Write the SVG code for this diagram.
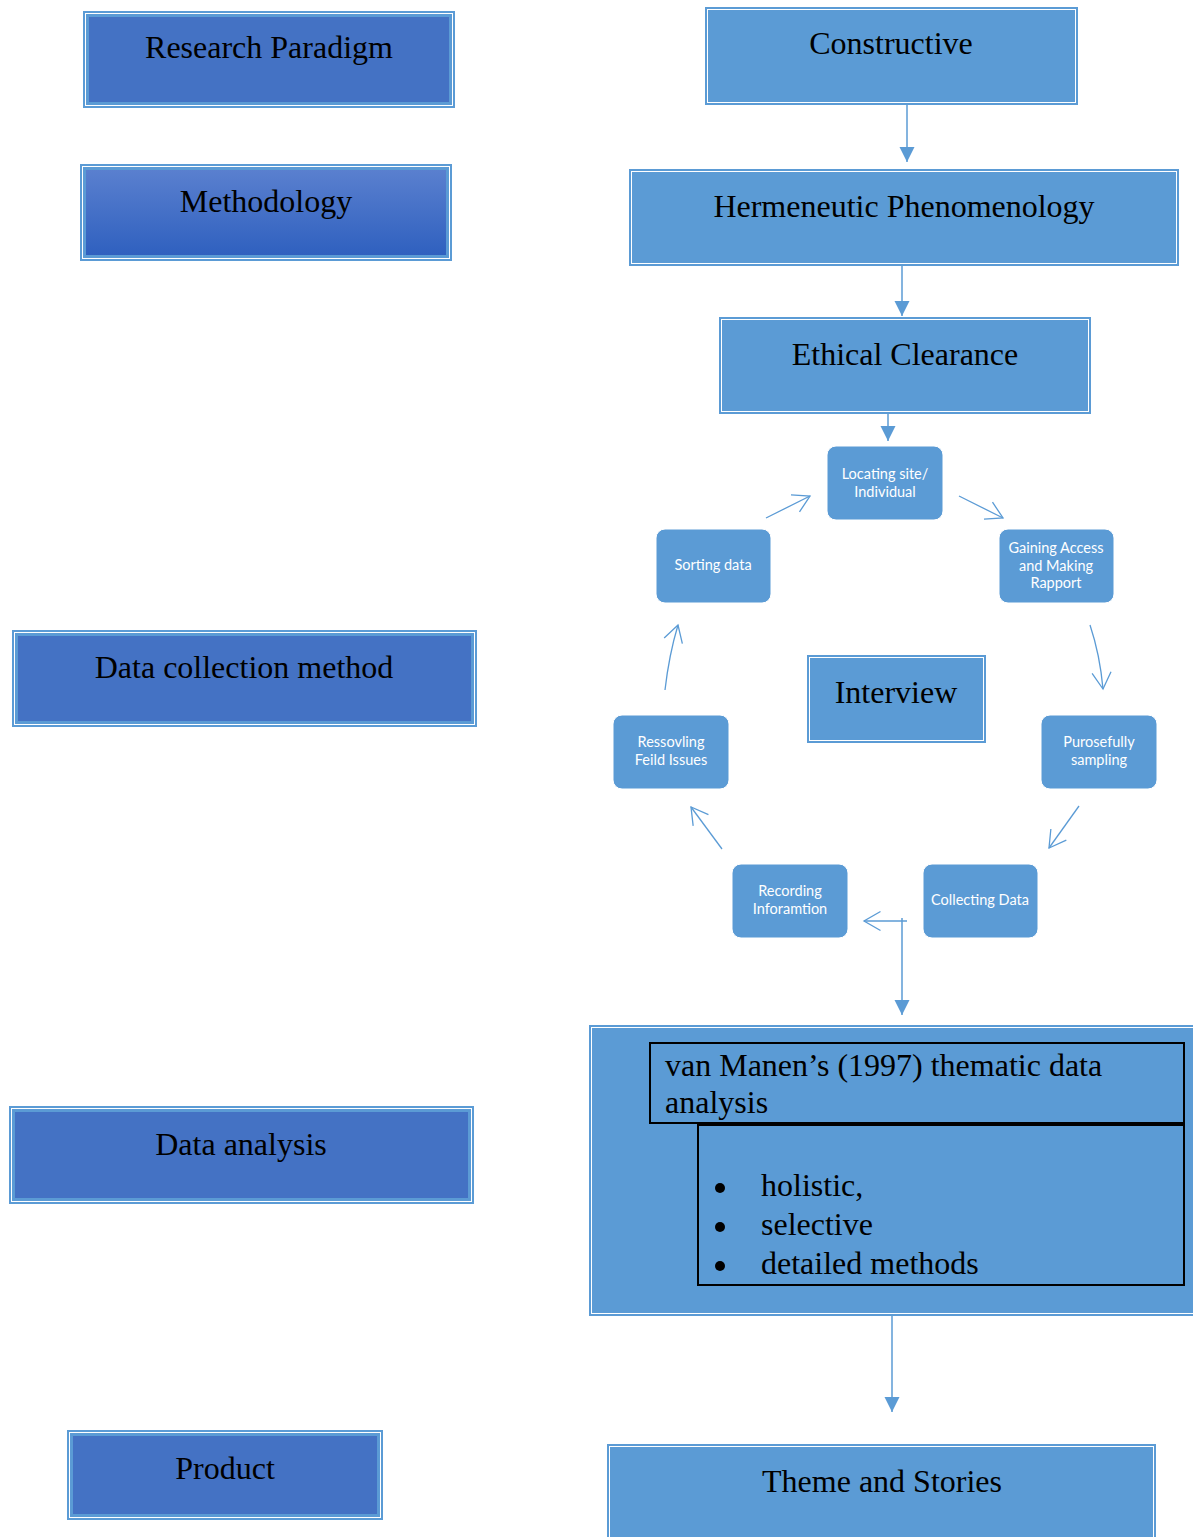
<svg xmlns="http://www.w3.org/2000/svg" width="1193" height="1537" viewBox="0 0 1193 1537">
<style>
.lo{fill:#5B9BD5}
.lw{fill:none;stroke:#ffffff;stroke-width:1}
.ld{fill:#4472C4;stroke:#5B9BD5;stroke-width:2}
.rf{fill:#5B9BD5}
.t{font-family:"Liberation Serif","Times New Roman",serif;font-size:32px;fill:#000;text-anchor:middle}
.tl{font-family:"Liberation Serif","Times New Roman",serif;font-size:32px;fill:#000}
.c{fill:#5B9BD5;stroke:#ffffff;stroke-width:1}
.ct{font-family:Lato,"Open Sans",sans-serif;font-size:14.5px;fill:#ffffff;text-anchor:middle}
.k{fill:none;stroke:#000;stroke-width:2}
.a{fill:none;stroke:#5B9BD5;stroke-width:1.5}
.o{fill:none;stroke:#5B9BD5;stroke-width:1.3}
</style>
<defs>
<linearGradient id="gm" x1="0" y1="0" x2="0" y2="1">
<stop offset="0" stop-color="#5A80CF"/>
<stop offset="1" stop-color="#2F60BF"/>
</linearGradient>
<marker id="fa" viewBox="-15 -8 16 16" refX="0" refY="0" markerWidth="16" markerHeight="16" markerUnits="userSpaceOnUse" orient="auto" overflow="visible">
<path d="M-15,-7.5 L0,0 L-15,7.5 Z" fill="#5B9BD5"/>
</marker>
<marker id="oa" viewBox="-18 -10 19 20" refX="0" refY="0" markerWidth="19" markerHeight="20" markerUnits="userSpaceOnUse" orient="auto" overflow="visible">
<path d="M-16.5,-9.5 L0,0 L-16.5,9.5" fill="none" stroke="#5B9BD5" stroke-width="1.3"/>
</marker>
</defs>

<g id="research-paradigm">
<rect class="lo" x="83" y="11" width="372" height="97"/>
<rect class="lw" x="85.5" y="13.5" width="367" height="92"/>
<rect class="ld" x="88" y="16" width="362" height="87"/>
<text class="t" x="269" y="58">Research Paradigm</text>
</g>

<g id="methodology">
<rect class="lo" x="80" y="164" width="372" height="97"/>
<rect class="lw" x="82.5" y="166.5" width="367" height="92"/>
<rect x="85" y="169" width="362" height="87" fill="url(#gm)" stroke="#5B9BD5" stroke-width="2"/>
<text class="t" x="266" y="212">Methodology</text>
</g>

<g id="data-collection-method">
<rect class="lo" x="12" y="630" width="465" height="97"/>
<rect class="lw" x="14.5" y="632.5" width="460" height="92"/>
<rect class="ld" x="17" y="635" width="455" height="87"/>
<text class="t" x="244" y="678">Data collection method</text>
</g>

<g id="data-analysis">
<rect class="lo" x="9" y="1106" width="465" height="98"/>
<rect class="lw" x="11.5" y="1108.5" width="460" height="93"/>
<rect class="ld" x="14" y="1111" width="455" height="88"/>
<text class="t" x="241" y="1155">Data analysis</text>
</g>

<g id="product">
<rect class="lo" x="67" y="1430" width="316" height="90"/>
<rect class="lw" x="69.5" y="1432.5" width="311" height="85"/>
<rect class="ld" x="72" y="1435" width="306" height="80"/>
<text class="t" x="225" y="1479">Product</text>
</g>

<g id="constructive">
<rect class="rf" x="705" y="7" width="373" height="98"/>
<rect class="lw" x="707.5" y="9.5" width="368" height="93"/>
<text class="t" x="891" y="54">Constructive</text>
</g>

<g id="hermeneutic-phenomenology">
<rect class="rf" x="629" y="169" width="550" height="97"/>
<rect class="lw" x="631.5" y="171.5" width="545" height="92"/>
<text class="t" x="904" y="217">Hermeneutic Phenomenology</text>
</g>

<g id="ethical-clearance">
<rect class="rf" x="719" y="317" width="372" height="97"/>
<rect class="lw" x="721.5" y="319.5" width="367" height="92"/>
<text class="t" x="905" y="365">Ethical Clearance</text>
</g>

<g id="interview">
<rect class="rf" x="807" y="655" width="179" height="88"/>
<rect class="lw" x="809.5" y="657.5" width="174" height="83"/>
<text class="t" x="896" y="703">Interview</text>
</g>

<g id="locating-site">
<rect class="c" x="827" y="446" width="116" height="74" rx="9"/>
<text class="ct" x="885" y="479">Locating site/</text>
<text class="ct" x="885" y="497">Individual</text>
</g>

<g id="gaining-access">
<rect class="c" x="999" y="529" width="115" height="74" rx="9"/>
<text class="ct" x="1056" y="553">Gaining Access</text>
<text class="ct" x="1056" y="570.5">and Making</text>
<text class="ct" x="1056" y="588">Rapport</text>
</g>

<g id="purposefully-sampling">
<rect class="c" x="1041" y="715" width="116" height="74" rx="9"/>
<text class="ct" x="1099" y="747">Purosefully</text>
<text class="ct" x="1099" y="765">sampling</text>
</g>

<g id="collecting-data">
<rect class="c" x="923" y="864" width="115" height="74" rx="9"/>
<text class="ct" x="980" y="905">Collecting Data</text>
</g>

<g id="recording-information">
<rect class="c" x="732" y="864" width="116" height="74" rx="9"/>
<text class="ct" x="790" y="896">Recording</text>
<text class="ct" x="790" y="914">Inforamtion</text>
</g>

<g id="resolving-field-issues">
<rect class="c" x="613" y="715" width="116" height="74" rx="9"/>
<text class="ct" x="671" y="747">Ressovling</text>
<text class="ct" x="671" y="765">Feild Issues</text>
</g>

<g id="sorting-data">
<rect class="c" x="656" y="529" width="115" height="74" rx="9"/>
<text class="ct" x="713" y="570">Sorting data</text>
</g>

<g id="thematic-analysis">
<rect class="rf" x="589" y="1025" width="620" height="291"/>
<rect class="lw" x="591.5" y="1027.5" width="615" height="286"/>
<rect class="k" x="650" y="1043" width="534" height="80"/>
<rect class="k" x="698" y="1125" width="486" height="160"/>
<text class="tl" x="665" y="1076">van Manen’s (1997) thematic data</text>
<text class="tl" x="665" y="1113">analysis</text>
<circle cx="720" cy="1188" r="5"/>
<circle cx="720" cy="1227" r="5"/>
<circle cx="720" cy="1266" r="5"/>
<text class="tl" x="761" y="1196">holistic,</text>
<text class="tl" x="761" y="1235">selective</text>
<text class="tl" x="761" y="1274">detailed methods</text>
</g>

<g id="theme-and-stories">
<rect class="rf" x="607" y="1444" width="549" height="110"/>
<rect class="lw" x="609.5" y="1446.5" width="544" height="105"/>
<text class="t" x="882" y="1492">Theme and Stories</text>
</g>

<g id="connectors">
<path class="a" d="M907,105 V162" marker-end="url(#fa)"/>
<path class="a" d="M902,266 V316" marker-end="url(#fa)"/>
<path class="a" d="M888,414 V441" marker-end="url(#fa)"/>
<path class="a" d="M902,918 V1015" marker-end="url(#fa)"/>
<path class="a" d="M892,1316 V1412" marker-end="url(#fa)"/>
<path class="o" d="M766,518 L810,496" marker-end="url(#oa)"/>
<path class="o" d="M959,496 L1003,518" marker-end="url(#oa)"/>
<path class="o" d="M1090,625 Q1100,655 1103,689" marker-end="url(#oa)"/>
<path class="o" d="M1079,806 L1049,848" marker-end="url(#oa)"/>
<path class="o" d="M907,921 L864,921" marker-end="url(#oa)"/>
<path class="o" d="M722,849 L691,807" marker-end="url(#oa)"/>
<path class="o" d="M665,690 Q669,655 678,625" marker-end="url(#oa)"/>
</g>
</svg>
